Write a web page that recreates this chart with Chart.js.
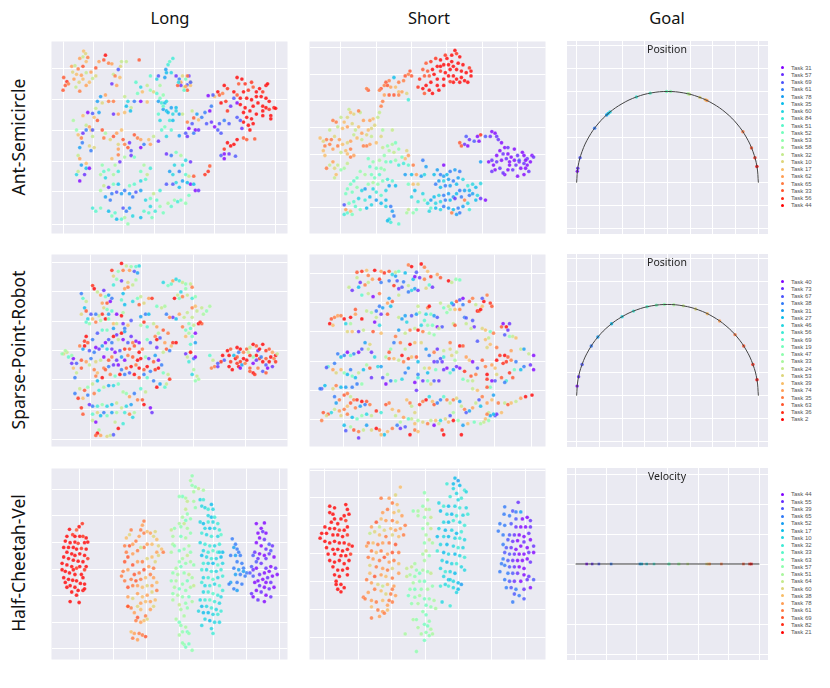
<!DOCTYPE html>
<html>
<head>
<meta charset="utf-8">
<script src="https://cdn.jsdelivr.net/npm/chart.js@4"></script>
<style>
body{margin:0;width:830px;height:688px;background:#fff;position:relative;overflow:hidden;font-family:"Noto Sans","DejaVu Sans",sans-serif;}
.box{position:absolute;z-index:1;}
.box canvas{display:block;}
.col{position:absolute;top:6px;font-size:16.5px;color:#111;transform:translateX(-50%);white-space:nowrap;z-index:2;}
.row{position:absolute;left:18px;font-size:17.5px;color:#111;transform:translate(-50%,-50%) rotate(-90deg);white-space:nowrap;z-index:2;}
.ptitle{position:absolute;font-size:10.5px;color:#222;transform:translateX(-50%);white-space:nowrap;z-index:2;}
.legend{position:absolute;left:779px;font-family:"Liberation Sans",Arial,sans-serif;font-size:6px;color:#555;z-index:2;}
.legend div{height:7.25px;line-height:7.25px;white-space:nowrap;}
.legend span{display:inline-block;width:3px;height:3px;border-radius:50%;margin:0 7px 1px 2px;vertical-align:middle;}
</style>
</head>
<body>
<div id="titles"></div>
<div class="box" style="left:47px;top:37px"><canvas id="c1" width="245" height="201"></canvas></div>
<div class="box" style="left:305px;top:37px"><canvas id="c2" width="245" height="201"></canvas></div>
<div class="box" style="left:563px;top:37px"><canvas id="c3" width="209" height="201"></canvas></div>
<div class="box" style="left:47px;top:250px"><canvas id="c4" width="245" height="201"></canvas></div>
<div class="box" style="left:305px;top:250px"><canvas id="c5" width="245" height="201"></canvas></div>
<div class="box" style="left:563px;top:250px"><canvas id="c6" width="209" height="201"></canvas></div>
<div class="box" style="left:47px;top:464px"><canvas id="c7" width="245" height="200"></canvas></div>
<div class="box" style="left:305px;top:464px"><canvas id="c8" width="245" height="200"></canvas></div>
<div class="box" style="left:563px;top:464px"><canvas id="c9" width="209" height="200"></canvas></div>
<script>
// 제목들
const columnTitles = ['Long', 'Short', 'Goal'];
const rowLabels = ['Ant-Semicircle', 'Sparse-Point-Robot', 'Half-Cheetah-Vel'];
const goalTitles = ['Position', 'Position', 'Velocity'];

// 범례 (보라 -> 빨강 순서)
const antTasks = [31, 57, 69, 61, 78, 35, 60, 84, 51, 52, 53, 58, 32, 10, 17, 62, 65, 33, 56, 44];
const sprTasks = [40, 73, 67, 38, 31, 27, 46, 56, 69, 19, 47, 33, 24, 53, 39, 74, 35, 63, 36, 2];
const hcvTasks = [44, 55, 39, 65, 52, 17, 10, 32, 33, 63, 57, 51, 64, 60, 38, 78, 61, 69, 82, 21];

// 목표 위치 (반원 위 각도, 도) / 속도
const antGoalAngles = [172.9, 170.9, 164.2, 143.3, 132.1, 130.7, 129.2, 110, 101, 90.6, 88, 77, 76, 69.2, 65.4, 64.3, 33.9, 22.4, 15.8, 10.2];
const sprGoalAngles = [174, 168, 160, 147, 140, 128, 120, 112, 103, 97, 92, 86, 80, 72, 64, 55, 42, 33, 20, 10];
const hcvGoalVel = [0.18, 0.27, 0.38, 0.58, 1.05, 1.08, 1.16, 1.28, 1.52, 1.53, 1.68, 1.69, 1.83, 2.14, 2.17, 2.19, 2.38, 2.74, 2.84, 2.87];

// 반원 (반지름 1)
const arcPoints = [[1,0],[0.985,0.174],[0.940,0.342],[0.866,0.5],[0.766,0.643],[0.643,0.766],[0.5,0.866],[0.342,0.940],[0.174,0.985],[0,1],
  [-0.174,0.985],[-0.342,0.940],[-0.5,0.866],[-0.643,0.766],[-0.766,0.643],[-0.866,0.5],[-0.940,0.342],[-0.985,0.174],[-1,0]];
const velLine = [[0,0],[3,0]];

// t-SNE 임베딩 [x, y, task index]
const antLong = [
[122,52,14],[128,60,13],[120,70,12],[110,75,15],[135,72,16],[130,85,14],[85,100,15],[95,98,12],[105,108,16],[120,100,17],[88,118,13],[100,125,14],[115,128,15],[130,120,12],[145,118,15],[60,135,17],[70,148,18],[65,160,17],[58,175,17],[75,155,16],[92,140,15],[108,150,13],[120,140,14],[98,165,12],[110,178,16],[130,160,15],[140,150,14],[150,138,12],[160,130,13],[170,85,15],[190,65,19],[185,80,17],[160,105,17],[200,90,16],[210,92,15],[240,85,12],[237,100,13],[255,85,12],[230,110,2],[215,125,12],[235,135,14],[220,130,16],[295,80,17],[210,155,1],[225,160,15],[175,195,4],[190,190,15],[165,210,4],[180,215,13],[200,210,16],[160,232,12],[150,248,2],[170,245,4],[135,245,0],[120,255,14],[155,260,14],[165,270,17],[215,210,16],[250,195,12],[260,210,6],[255,225,5],[270,230,12],[268,240,5],[215,250,1],[230,250,15],[250,245,14],[280,210,3],[300,210,0],[320,212,14],[285,150,8],[300,165,6],[305,180,14],[290,185,9],[320,160,12],[330,130,8],[330,175,10],[340,180,13],[350,140,6],[355,130,2],[350,185,8],[360,200,9],[370,190,10],[360,160,11],[380,120,5],[378,110,4],[385,95,7],[390,85,8],[400,75,7],[375,135,4],[395,120,6],[410,130,1],[420,140,3],[430,130,13],[425,150,15],[440,140,9],[450,130,1],[445,158,2],[435,165,12],[445,175,17],[455,150,12],[425,160,1],
[90,270,11],[100,300,10],[105,315,14],[115,325,16],[130,285,12],[140,290,15],[145,300,14],[150,300,2],[130,300,3],[120,310,1],[118,340,3],[110,355,4],[150,320,12],[140,350,13],[155,355,13],[145,365,3],[105,380,12],[110,390,15],[180,300,17],[185,325,16],[190,310,11],[205,330,13],[215,320,17],[225,310,15],[240,300,14],[245,330,17],[230,345,13],[250,345,16],[260,355,17],[265,340,1],[280,315,17],[290,325,16],[300,330,15],[270,380,1],[280,385,9],[250,385,11],[230,378,16],[210,390,14],[230,360,15],[270,365,2],[300,355,0],[310,345,3],[325,330,14],[340,320,12],[330,345,15],
[355,250,8],[360,270,6],[370,235,4],[380,240,5],[375,290,9],[365,300,8],[380,320,6],[390,270,7],[400,270,5],[395,300,8],[410,230,5],[400,250,6],[420,250,4],[430,250,12],[445,275,16],[460,240,12],[465,262,17],[475,250,4],[480,268,14],[490,260,3],[500,245,3],[515,240,0],[520,225,3],[530,195,14],[540,180,19],[545,190,17],[560,160,19],[570,170,18],[555,185,16],[565,210,18],[550,215,19],[510,192,0],[525,190,2],[505,280,2],[520,275,1],[530,290,0],[540,300,2],[550,310,2],[460,280,2],[470,300,0],[480,300,1],[465,310,3],[450,295,0],[440,310,2],[420,318,4],[445,320,1],
[355,335,1],[380,375,1],[395,380,3],[410,370,9],[425,380,11],[440,395,6],[455,400,1],[430,410,7],[405,410,6],[390,430,4],[400,440,6],[420,430,3],[440,440,8],[450,445,12],[465,445,17],[455,470,0],[445,465,5],[430,460,4],[410,465,6],[400,470,2],[420,480,5],[380,470,2],[360,490,7],[340,500,12],[350,520,8],[330,515,9],[315,520,6],[300,490,4],[310,410,11],[300,430,9],[320,440,12],[330,420,7],[315,455,8],[300,460,6],[280,470,8],[265,475,9],[250,490,3],[240,500,4],[225,495,2],[210,500,3],[200,480,1],[185,475,12],[175,490,11],[190,510,4],[205,520,3],[215,470,9],[230,470,5],[265,500,4],[275,510,3],[285,495,2],
[150,545,7],[160,555,8],[175,545,9],[200,555,5],[210,570,9],[220,560,8],[245,545,2],[255,555,3],[265,545,4],[250,575,11],[240,580,8],[225,580,5],[260,595,10],[275,570,6],[300,575,5],[310,555,8],[325,560,8],[335,575,9],[345,555,7],[330,540,6],[360,540,10],[370,560,9],[385,530,11],[395,540,8],[405,520,10],[415,525,7],[425,520,9],[440,530,10],[450,505,9],[470,490,0],[480,490,1],[465,470,5],
[100,440,6],[110,460,0],[105,430,12],[115,410,4],[125,440,1],[130,420,5],[140,420,0],[175,440,11],[185,430,8],[200,425,9],[215,440,11],[230,430,7],[190,450,6],[180,410,10],[220,410,11],[235,400,1],[130,405,14],
[600,135,19],[615,140,19],[625,155,18],[605,155,17],[590,180,19],[600,190,17],[610,200,19],[620,180,19],[635,175,18],[645,150,18],[650,165,17],[660,180,19],[670,170,19],[680,180,18],[690,160,19],[695,155,19],[630,200,19],[645,205,19],[660,195,19],[675,195,19],[690,200,19],[700,210,19],[715,230,19],[720,232,19],[700,235,18],[680,225,19],[665,215,19],[650,225,19],[640,240,19],[625,230,19],[610,220,19],[600,215,0],[590,200,2],[580,225,1],[570,240,18],[600,260,2],[620,245,19],[630,260,19],[645,265,19],[660,250,19],[680,240,19],[690,230,19],[705,255,19],[705,265,19],[680,255,19],[650,280,19],[635,285,19],[620,275,19],[640,300,19],[620,325,17],[630,330,17],[655,328,17],[600,330,19],[590,345,19],[580,350,19],[570,340,19],[560,360,18],[550,380,2],[560,375,0],[575,375,1],[595,382,2],[560,390,0],[615,295,1],[610,270,2],[575,280,2],[560,270,3],[545,280,2],
[515,413,17],[510,430,18],[500,440,18],
[355,210,4],[365,215,7],[375,215,5],[380,210,6],[370,225,8],[395,230,4],[385,245,5],[410,240,6],
[415,160,17],[435,175,8],[440,163,15],[455,160,14],[418,150,6],[445,130,16],[455,150,2]
];

const antShort = [
[475,50,19],[480,60,18],[465,65,19],[450,75,19],[445,65,18],[490,70,19],[430,80,19],[415,75,18],[400,85,18],[385,90,17],[375,110,17],[390,115,17],[405,110,19],[420,100,19],[430,100,19],[440,95,19],[455,95,19],[465,85,19],[470,100,19],[485,90,19],[500,95,19],[520,105,18],[525,115,19],[510,120,19],[495,115,19],[480,110,19],[460,110,19],[445,120,19],[430,115,18],[410,125,19],[395,130,17],[380,130,17],[420,140,19],[440,140,19],[455,130,19],[470,130,19],[480,140,19],[495,135,19],[505,145,19],[490,150,19],[470,150,19],[460,148,18],[400,150,19],[385,160,19],[375,170,19],[395,175,19],[405,185,19],[380,185,17],[420,160,19],[425,175,19],[440,160,19],[360,165,18],[525,130,19],[515,150,19],[365,140,18],
[335,115,17],[340,130,17],[330,125,16],[320,130,17],[315,145,16],[300,150,16],[285,135,5],[270,145,16],[260,150,17],[255,160,16],[265,160,17],[275,165,15],[245,170,17],[240,175,16],[290,165,14],[300,180,14],[285,190,17],[300,190,16],[310,180,15],[325,185,13],[330,205,7],[205,175,17],[200,170,16],[250,210,16],[245,225,16],[255,190,15],[270,190,17],
[240,245,12],[235,260,12],[220,265,14],[210,270,15],[225,285,13],[215,295,13],[205,300,14],[190,270,15],[180,245,12],[175,240,16],[160,250,13],[145,235,12],[150,245,14],[140,260,13],[130,275,14],[120,260,12],[105,275,16],[95,270,16],[110,290,12],[125,295,14],[140,290,15],[155,280,13],[165,300,12],[175,290,14],[185,310,15],[200,315,13],[215,320,12],[250,300,11],[280,300,12],[245,320,13],[230,340,14],[210,345,15],[200,350,16],[190,350,16],[185,330,12],[170,325,14],[160,315,12],[150,335,15],[140,340,13],[125,345,14],[115,330,15],[100,320,13],[90,330,16],[85,345,16],[75,330,16],[65,335,13],[55,325,14],[70,350,16],[65,365,14],[85,300,12],[95,360,15],[110,350,16],[120,370,12],[135,365,14],[150,360,16],[160,380,15],[150,385,16],[140,375,14],[70,380,14],[95,400,15],[85,410,12],[75,420,16],[100,420,13],[110,410,12],[130,420,11],[120,425,10],[140,405,12],[100,450,12],[105,440,14],
[250,355,12],[265,350,10],[280,345,11],[290,340,9],[300,360,10],[285,370,12],[270,365,11],[255,380,10],[240,395,11],[220,400,10],[205,390,9],[210,415,8],[230,420,9],[245,420,10],[260,400,9],[275,400,8],[290,395,10],[300,410,7],[315,405,7],[320,390,14],[330,380,15],[325,365,13],[310,385,9],[255,425,10],[240,440,8],[225,450,9],[215,440,9],[195,440,11],[180,430,10],[170,450,9],[160,460,8],[150,470,9],[140,485,9],[135,500,9],[155,495,9],[170,480,10],[185,490,6],[195,485,4],[205,470,10],[220,465,11],[235,470,10],[250,460,9],[265,455,7],[280,460,8],[290,475,5],[270,475,4],[260,490,6],[245,505,8],[230,495,7],[220,485,6],[210,510,5],[195,520,7],[175,515,6],[160,525,8],[145,530,9],[130,535,2],[165,540,8],[180,550,9],[200,545,5],[215,535,6],[230,520,4],[245,530,5],[260,540,6],[275,540,3],[280,555,4],[285,570,3],[270,580,6],[275,590,7],[265,585,5],[300,595,8],[260,520,5],[130,565,7],[140,560,8],[150,555,14],[135,550,15],[155,565,9],
[330,410,8],[345,410,16],[320,440,4],[340,440,5],[355,440,15],[370,445,4],[380,440,6],[385,415,4],[375,395,3],[360,470,13],[345,470,14],[330,470,9],[350,490,5],[340,510,6],[360,525,7],[375,500,6],[380,520,9],[330,550,12],[345,560,10],[355,550,9],[325,560,11],[390,530,6],
[440,410,0],[420,425,4],[410,440,5],[430,440,3],[440,445,4],[450,440,5],[460,430,3],[475,425,4],[490,430,3],[485,450,4],[470,460,3],[455,455,4],[440,460,6],[425,460,4],[415,470,3],[430,480,5],[445,475,3],[460,475,4],[480,470,5],[500,455,6],[515,475,7],[530,470,6],[540,480,5],[555,468,6],[520,490,5],[505,490,4],[490,490,3],[480,500,5],[470,510,4],[455,500,4],[440,505,3],[425,505,6],[410,510,5],[400,520,4],[415,530,6],[430,525,6],[445,520,3],[460,520,5],[475,515,1],[495,510,3],[505,520,16],[520,505,3],[530,500,4],[540,520,5],[555,515,1],[570,520,0],[545,505,6],[515,530,6],[500,540,4],[485,545,3],[470,550,5],[455,545,4],[440,540,3],[430,550,6],[415,545,5],[400,545,8],[395,555,6],[465,560,16],[480,565,4],[490,560,3],[520,550,7],
[590,305,0],[600,310,0],[605,320,1],[585,320,1],[570,320,2],[555,315,18],[545,320,0],[550,335,0],[535,335,2],[520,330,1],[510,320,2],[505,345,1],[490,340,17],[495,350,17],[515,350,0],[610,330,1],[620,340,0],[630,355,0],[640,355,1],[615,365,0],[625,375,1],[640,375,0],[650,385,0],[605,380,0],[590,395,1],[580,400,0],[595,410,0],[605,400,1],[620,395,0],[635,390,1],[645,400,0],[660,395,0],[670,380,1],[685,370,0],[690,380,0],[700,390,1],[715,380,0],[720,385,1],[710,400,0],[700,410,0],[690,405,1],[675,400,0],[665,410,1],[680,420,0],[695,420,0],[705,430,1],[690,440,0],[670,445,0],[655,425,1],[640,425,0],[630,440,0],[625,435,1],[615,420,1],[600,425,0],[590,430,1],[555,400,4],[660,360,0],[675,395,2],[645,410,0],[695,395,0]
];

const sprLong = [
[240,50,19],[255,58,12],[270,60,10],[285,60,8],[295,58,6],[230,75,10],[245,72,16],[265,72,15],[280,75,2],[290,80,4],[210,72,18],[215,90,13],[225,100,10],[240,105,1],[215,118,7],[260,110,13],[275,118,12],[285,102,11],[260,125,16],[250,130,15],
[115,145,3],[120,160,8],[130,170,12],[125,190,5],[115,210,13],[130,200,17],[135,225,6],[150,120,18],[155,130,19],[165,140,12],[175,150,15],[185,135,1],[190,155,9],[200,150,4],[210,160,3],[205,170,0],[195,175,17],[180,175,15],[185,190,13],[195,195,9],[210,200,8],[200,210,4],[180,210,18],[170,215,12],[160,210,3],[145,210,2],[150,225,14],[140,240,10],[130,235,8],[160,235,16],[175,230,11],[190,225,19],[200,225,9],[215,240,14],[225,240,12],[240,215,19],[245,205,11],[250,180,5],[240,165,8],[245,145,5],[275,170,6],[290,160,9],[300,155,12],[310,175,13],[295,180,17],[325,160,15],[335,160,18],[315,210,3],[325,210,5],[300,218,4],[310,235,18],[300,245,11],[320,250,8],[270,230,2],[225,210,0],[260,245,14],[250,255,3],[245,240,1],
[370,110,6],[385,120,9],[395,115,8],[400,105,15],[410,100,6],[420,105,7],[430,110,12],[440,115,10],[455,115,12],[460,125,16],[440,130,10],[425,140,6],[415,150,12],[405,160,19],[420,160,9],[430,155,16],[445,150,12],[460,160,7],[470,155,10],[350,185,9],[365,190,12],[375,185,11],[380,210,3],[400,220,1],[390,220,16],[410,225,5],[420,210,15],[435,220,12],[445,205,12],[460,190,16],[470,185,14],[475,200,12],[490,190,12],[505,200,10],[515,185,11],[495,210,11],[460,220,12],[450,240,10],[440,260,9],[450,270,11],[470,270,0],[480,240,19],[490,240,17],[485,235,18],[465,245,12],[455,255,8],[430,250,16],
[340,240,12],[350,250,15],[355,270,11],[345,280,16],[360,285,2],[350,290,19],[370,260,17],[385,270,16],[375,300,15],[380,320,17],[395,310,14],[400,300,18],[410,300,19],[390,325,3],[370,330,12],[440,280,14],[460,280,9],[470,300,4],[455,305,8],[440,335,1],[455,330,19],[445,345,12],[465,350,3],[470,345,0],[450,360,7],[465,385,11],[460,400,6],[475,405,12],[480,415,11],[470,420,10],[350,315,1],[330,300,2],[320,290,9],
[210,300,3],[230,290,12],[240,270,19],[250,265,4],[270,280,1],[285,295,0],[295,300,0],[275,300,16],[260,300,2],[245,290,0],[225,275,1],[215,280,19],[200,290,2],[190,300,0],[180,310,4],[170,320,1],[160,315,0],[150,290,3],[165,270,2],[180,260,8],[195,260,9],[215,255,4],[130,280,19],[125,295,18],[135,300,17],[120,320,4],[140,325,2],[155,330,3],[195,320,6],[210,320,1],[220,330,0],[235,325,2],[250,320,18],[265,320,17],[280,310,17],[295,330,19],[305,320,16],[315,345,10],[300,350,19],[290,355,19],[275,345,17],[260,340,16],[250,355,0],[240,345,4],[225,355,1],[210,345,16],[200,355,17],[185,345,0],[175,355,12],[160,360,13],[145,350,3],[130,360,15],[115,355,17],[100,365,2],[90,350,0],[85,340,10],[70,330,12],[60,335,13],[75,345,8],[90,380,14],[100,395,12],[95,410,3],[115,380,17],[140,370,12],[155,385,16],[165,395,14],[185,380,16],[190,385,17],[200,375,3],[215,370,1],[230,370,0],[240,385,3],[255,380,17],[270,375,19],[285,370,16],[295,380,19],[310,385,17],[320,375,19],[330,390,3],[345,385,18],[355,380,19],[340,360,17],[325,350,1],[345,340,4],[355,355,0],[365,370,3],[370,395,9],[385,400,12],[390,415,18],[380,430,12],[375,440,8],[360,430,4],[350,440,19],[340,420,3],[320,410,8],[310,400,3],[295,410,17],[280,400,19],[265,395,2],[250,400,3],[235,400,19],[220,405,9],[205,400,16],[180,410,19],[160,405,16],[165,420,5],[150,430,12],[135,440,10],[125,450,17],[110,445,12],[95,460,3],[105,475,18],[120,475,14],[135,465,3],[155,460,16],[170,450,7],[185,440,11],[200,435,4],[215,435,6],[230,430,9],[245,455,11],[255,460,10],[265,470,15],[280,460,3],[300,445,8],[315,455,12],[290,480,16],[305,480,17],[310,495,19],[330,505,0],[335,520,1],[270,495,4],[255,500,6],[240,505,12],[225,490,12],[210,495,5],[195,500,6],[180,495,10],[165,500,7],[150,500,3],[140,495,1],[115,505,18],[120,525,17],[150,525,8],[165,520,13],[175,530,5],[185,520,3],[195,530,9],[210,520,4],[225,520,11],[250,520,7],[265,525,16],[280,520,11],[150,545,12],[160,550,0],[170,575,11],[165,585,19],[160,592,17],[175,592,15],[195,595,13],[205,592,12],[215,590,2],[230,570,19],[220,550,12],[245,555,7],[275,535,6],
[55,335,10],[65,325,11],[85,365,1],[110,310,16],[125,310,19],
[515,340,8],[525,355,12],[520,380,16],[530,375,16],[540,375,1],[555,340,19],[560,355,2],[570,325,19],[580,320,17],[590,340,5],[595,350,19],[580,360,18],[575,375,19],[585,385,19],[600,345,17],[605,330,3],[610,320,19],[620,330,16],[630,320,17],[640,315,12],[650,305,19],[660,310,17],[665,325,1],[670,320,19],[680,305,19],[690,325,18],[700,320,17],[710,330,15],[720,340,19],[725,335,12],[715,350,16],[720,360,18],[710,375,1],[700,360,19],[690,370,2],[680,360,19],[670,350,18],[660,340,19],[650,345,10],[640,340,18],[630,355,19],[620,350,19],[610,360,18],[605,375,19],[615,370,4],[625,365,16],[640,380,17],[650,395,19],[655,400,18],[640,390,17],[665,380,16],[680,390,2],[690,395,17],[695,380,0],[650,365,0],[660,355,1],[635,330,12],[550,360,18],[540,365,2],[600,365,18],[610,380,0],[675,345,3],[690,350,17],[705,345,19],[600,315,19],[575,340,19]
];

const sprShort = [
[170,78,17],[185,75,18],[200,72,14],[205,88,16],[225,72,19],[245,75,15],[255,80,18],[270,75,17],[280,85,6],[290,78,12],[300,75,9],[320,80,5],[330,55,16],[340,60,19],[355,78,2],[370,52,19],[380,62,16],[390,75,14],[400,92,18],[420,85,15],[430,95,17],[455,105,19],[465,110,12],[478,100,10],[490,102,9],[170,95,12],[180,110,1],[175,125,5],[195,118,16],[205,110,12],[218,100,15],[240,100,18],[245,110,3],[270,105,3],[290,90,4],[295,105,2],[310,125,2],[315,108,3],[285,120,18],[300,130,1],[330,120,12],[345,100,5],[350,92,0],[365,95,1],[380,100,16],[395,118,8],[405,125,1],[385,128,13],[350,130,4],[340,135,6],[360,135,1],[330,140,3],[145,125,12],[155,135,1],[185,150,8],[205,145,12],[220,155,0],[240,145,16],[270,160,4],[280,170,17],[300,150,12],
[90,225,17],[100,220,16],[85,240,19],[95,245,14],[110,215,15],[120,215,16],[130,225,19],[135,240,6],[150,220,19],[165,195,17],[165,210,15],[185,225,19],[150,240,11],[140,265,13],[155,265,14],[175,265,1],[190,260,12],[200,200,12],[215,205,11],[230,200,3],[240,185,3],[250,190,4],[245,210,1],[265,210,17],[225,235,0],[230,220,12],[240,245,6],[220,265,17],[245,270,14],[265,175,15],[275,185,5],
[300,220,12],[310,225,4],[320,215,4],[325,235,6],[340,215,2],[355,210,4],[365,205,11],[385,210,6],[390,190,16],[400,210,9],[410,215,4],[420,220,2],[380,230,8],[370,245,6],[390,245,10],[405,245,9],[420,250,0],[435,250,2],[425,255,12],[300,260,4],[320,270,12],[335,260,16],[350,255,12],[360,260,19],[375,265,16],[395,270,11],[410,275,10],[360,185,12],[395,185,19],
[430,175,12],[440,190,9],[450,205,10],[460,195,11],[470,180,2],[480,170,17],[490,165,2],[500,160,0],[500,180,3],[465,175,5],[455,185,12],[475,195,14],[490,195,16],[505,220,3],[510,222,2],[520,170,17],[530,160,16],[540,180,12],[545,200,19],[550,200,17],[555,195,19],[560,185,14],[565,170,19],[560,160,2],[575,150,16],[585,175,18],[590,185,17],[530,230,2],[535,250,1],[525,255,12],[510,240,12],[470,240,12],[475,245,17],[560,255,13],[570,260,14],[585,265,9],[595,270,16],[620,250,17],[625,240,0],[635,250,19],[645,240,1],[640,260,1],[630,275,2],[645,280,10],[655,280,12],[665,285,14],[545,295,2],[570,290,14],[580,285,12],[585,305,14],[575,315,13],[605,315,16],[615,340,18],[630,340,19],[640,345,17],[635,360,18],[625,365,18],[650,355,16],[650,325,15],[680,320,12],[690,320,4],[705,335,12],[720,340,0],[720,385,0],[710,370,1],[690,375,3],[680,385,5],[665,360,3],[660,385,9],[645,395,18],[655,410,17],[635,420,7],[630,425,3],[620,410,17],[605,400,13],[600,420,2],[590,420,0],[575,400,19],[575,415,18],[585,440,9],[575,440,17],[595,465,4],[590,480,14],[575,490,15],[560,470,16],[550,480,2],[545,450,14],[530,445,12],[540,400,16],[525,405,17],[530,420,12],[515,420,11],[500,415,9],[505,390,18],[490,380,0],[480,375,1],[470,385,4],[460,395,8],[450,380,0],[440,385,1],[435,360,1],[440,345,7],[430,350,2],[420,360,2],[410,360,1],[415,385,9],[425,420,1],[410,420,2],[400,430,13],[390,420,9],[375,420,1],[360,410,7],[350,425,0],[355,450,1],[360,400,3],
[440,325,12],[460,320,13],[465,340,13],[475,355,11],[490,310,19],[500,310,17],[510,345,15],[520,355,14],[530,360,0],[545,380,2],[560,355,17],[570,375,16],[590,370,15],[600,380,14],[605,355,19],[460,300,16],[480,330,12],[420,320,1],[410,330,16],[395,340,3],[385,320,4],[370,300,13],[350,300,14],[335,305,19],[320,320,12],[305,300,16],[290,280,16],[285,300,3],[275,320,10],[270,330,17],[260,345,11],[270,350,16],[285,350,14],[300,355,12],[310,340,19],[315,360,16],[330,350,18],[340,345,14],[355,345,17],[360,360,5],[380,380,12],[390,395,5],[395,380,14],[330,380,4],[320,395,3],[310,415,6],[290,420,9],[275,420,3],[260,430,0],[265,400,11],[250,410,2],[235,375,6],[245,375,4],[225,345,6],[215,330,1],[205,320,12],[210,305,13],[195,300,4],[185,320,2],[175,330,0],[160,335,3],[150,340,8],[140,330,0],[130,340,3],[120,345,5],[110,335,3],[100,365,3],[80,375,8],[75,378,2],[95,385,15],[105,395,13],[120,385,14],[130,395,10],[140,400,5],[150,385,3],[155,405,9],[165,410,5],[175,395,12],[190,385,5],[200,370,11],[210,380,17],[215,410,1],[185,430,10],[170,430,3],[155,440,3],[135,440,4],[120,440,5],[105,435,16],[95,445,13],[60,445,2],[70,435,5],[55,445,3],
[100,470,3],[105,490,4],[115,480,16],[130,465,17],[140,460,16],[150,470,12],[160,480,16],[170,480,18],[185,485,19],[200,485,17],[210,495,16],[195,495,3],[180,500,4],[165,505,16],[150,490,17],[140,500,14],[130,510,16],[115,515,15],[100,510,12],[90,520,6],[80,525,17],[65,520,17],[60,545,16],[75,530,13],[120,530,13],[140,525,16],[155,535,5],[170,540,9],[185,530,10],[200,525,6],[215,530,12],[230,515,18],[245,520,7],[260,495,17],[270,490,16],[280,510,14],[290,530,12],[300,515,15],[325,480,14],[335,490,16],[340,500,12],[350,520,13],[365,495,18],[375,485,16],[385,480,19],[395,470,6],[405,485,14],[410,495,17],[420,490,3],[430,480,3],[440,470,8],[450,480,16],[460,490,12],[470,480,16],[480,475,13],[490,485,4],[495,500,12],[505,510,16],[510,520,2],[520,515,4],[530,505,15],[540,490,12],[555,500,5],[580,520,12],[585,530,4],[575,525,16],[600,530,2],[605,525,1],[620,520,14],[630,490,12],[640,495,17],[650,490,14],[665,485,12],[680,475,15],[695,470,19],[715,465,19],[610,490,16],[470,520,11],[460,530,2],[445,540,13],[430,545,6],[415,545,14],[400,545,12],[390,555,16],[375,550,13],[360,545,11],[350,555,14],[340,540,12],[330,540,8],[315,535,15],[305,550,11],[295,560,3],[280,570,16],[265,580,14],[255,590,5],[240,575,16],[230,570,19],[215,575,13],[200,560,4],[190,575,12],[175,580,16],[160,575,17],[150,565,11],[135,577,2],[130,560,5],[175,600,1],[245,590,14],[305,570,1],[320,565,2],[335,590,19],[350,575,16],[360,580,14],[410,560,0],[425,555,12],[435,575,18],[440,590,19],[455,550,14],[470,545,19],[485,545,10],[495,590,19],[500,560,4],[515,555,14],[535,550,9],[555,555,11],[565,550,12],[570,540,14],[580,545,10],[595,525,5]
];

const hcvLong = [
[118,200,18],[108,210,19],[100,220,17],[78,218,19],[70,240,19],[88,235,18],[95,240,19],[110,240,19],[120,240,18],[130,245,19],[65,255,19],[80,260,19],[95,258,19],[105,262,18],[125,260,19],[135,258,19],[60,275,19],[75,275,19],[90,275,19],[100,280,19],[115,278,18],[130,280,19],[70,290,19],[85,295,19],[95,300,19],[110,295,19],[125,300,19],[135,310,18],[60,305,19],[75,310,19],[90,315,19],[105,318,19],[120,320,19],[130,335,19],[55,325,19],[70,330,19],[85,335,19],[100,340,18],[110,335,19],[125,345,18],[55,345,19],[65,350,19],[78,355,19],[95,360,19],[115,360,19],[120,370,19],[60,370,19],[75,375,19],[88,378,19],[100,380,19],[112,388,19],[125,390,19],[65,385,19],[80,395,19],[95,400,19],[105,410,19],[120,410,19],[125,405,19],[85,415,19],[100,425,19],[80,445,19],[108,448,19],[70,400,19],[90,345,19],
[310,192,16],[305,205,15],[300,220,16],[270,220,16],[265,235,13],[255,245,14],[250,270,16],[255,290,16],[265,270,17],[275,265,15],[285,255,16],[295,240,15],[310,230,16],[320,225,14],[330,230,15],[340,240,13],[350,250,14],[345,225,13],[355,270,13],[365,280,14],[370,290,16],[350,290,15],[335,265,14],[320,265,15],[310,275,16],[300,275,12],[290,285,16],[275,295,15],[260,305,17],[250,320,17],[245,350,16],[240,365,16],[260,345,15],[275,330,17],[290,320,15],[305,320,16],[320,310,13],[335,305,14],[345,320,13],[355,300,13],[340,340,16],[325,335,15],[310,345,17],[295,355,16],[280,360,17],[270,375,16],[285,380,17],[300,375,16],[315,370,14],[330,360,16],[340,370,15],[350,385,14],[335,395,15],[320,395,13],[305,400,14],[290,395,15],[275,395,16],[260,400,17],[250,380,16],[260,430,15],[275,435,13],[290,420,15],[305,430,14],[320,425,15],[335,415,13],[350,410,16],[345,440,14],[330,445,15],[315,445,14],[300,450,15],[290,460,13],[270,465,16],[260,460,16],[280,480,15],[300,470,14],[315,490,16],[330,470,15],[340,460,13],[290,495,17],[285,505,16],[300,510,15],[310,505,14],[320,500,13],[270,540,14],[280,545,15],[295,545,16],[305,550,16],[315,555,17],[275,560,16],[290,565,15],[260,460,17],
[460,50,10],[455,65,11],[460,80,10],[470,85,10],[465,100,11],[480,90,12],[495,95,11],[430,115,9],[420,115,10],[440,120,11],[445,130,12],[465,130,11],[470,150,10],[440,155,12],[445,170,10],[430,180,11],[455,185,10],[440,190,9],[420,200,11],[435,200,12],[425,210,10],[445,215,11],[405,215,10],[395,220,12],[455,230,10],[440,245,11],[425,240,9],[400,265,11],[405,270,10],[395,290,11],[420,285,9],[435,280,10],[450,270,11],[455,290,10],[445,300,12],[430,310,11],[420,320,10],[440,325,10],[455,320,11],[465,330,10],[425,335,9],[410,340,11],[400,355,10],[415,360,11],[435,355,10],[450,360,12],[460,370,11],[445,380,9],[430,390,10],[410,380,11],[395,380,10],[405,400,11],[420,405,9],[440,410,10],[455,400,11],[465,395,12],[400,420,10],[415,425,11],[430,430,10],[450,430,9],[460,445,11],[440,450,10],[420,455,12],[400,440,11],[445,465,10],[425,470,11],[435,490,11],[420,510,9],[425,520,10],[440,525,11],[430,540,10],[445,540,9],[450,545,10],[420,550,11],[435,580,10],[440,588,9],[450,578,9],[460,598,10],[430,575,10],[410,500,11],[400,240,11],
[485,125,6],[495,125,7],[490,145,6],[500,150,6],[510,155,7],[525,155,6],[520,140,5],[510,175,6],[520,180,5],[530,180,7],[485,195,6],[495,200,5],[510,195,7],[525,195,6],[540,200,7],[500,215,6],[515,215,5],[530,215,6],[545,220,7],[490,230,7],[505,235,6],[520,240,7],[540,240,6],[550,235,8],[485,260,6],[500,265,7],[515,270,7],[530,270,6],[545,265,7],[495,285,6],[510,290,7],[525,285,8],[540,290,7],[555,290,5],[490,300,5],[505,305,6],[520,310,7],[535,310,6],[550,305,5],[495,325,7],[510,325,6],[525,325,5],[540,330,8],[555,325,6],[490,345,7],[505,345,6],[520,350,7],[535,350,6],[550,345,7],[495,370,6],[510,370,7],[525,375,8],[540,370,6],[555,365,7],[490,385,7],[500,395,6],[515,395,7],[530,390,6],[545,395,8],[555,410,7],[495,415,6],[510,415,7],[525,420,8],[540,425,7],[550,430,6],[485,440,6],[500,440,7],[515,440,8],[530,445,7],[545,450,6],[490,460,5],[505,460,6],[520,465,7],[535,470,6],[550,475,7],[480,475,6],[495,480,5],[510,480,5],[525,485,6],[540,485,7],[500,500,6],[515,505,5],[530,510,6],[490,520,6],[520,530,6],[525,545,7],[545,510,6],[545,290,6],
[585,248,3],[595,265,3],[590,275,4],[600,280,3],[605,290,3],[580,300,3],[595,300,4],[610,300,3],[600,320,3],[615,325,3],[590,340,3],[605,345,4],[620,340,3],[630,355,3],[595,360,4],[610,360,3],[625,365,3],[580,385,4],[600,385,3],[615,390,3],[590,405,3],[600,410,4],[575,390,3],[620,350,4],
[660,200,0],[685,198,0],[675,215,0],[680,225,1],[665,230,0],[690,230,0],[670,245,0],[685,250,1],[660,260,0],[700,265,2],[710,270,1],[675,270,0],[690,280,1],[705,285,2],[655,290,1],[670,295,0],[650,300,2],[665,310,1],[685,300,0],[700,295,1],[715,305,0],[690,310,1],[660,320,2],[675,325,1],[645,335,2],[660,340,0],[690,340,1],[705,335,0],[720,340,1],[700,350,0],[685,355,0],[670,360,1],[650,365,2],[725,360,0],[710,365,0],[695,370,1],[680,375,0],[665,380,0],[690,385,0],[705,385,1],[655,385,0],[670,395,1],[685,400,0],[700,405,1],[715,400,0],[660,410,0],[675,415,1],[690,425,0],[705,430,1],[650,430,0],[665,440,1],[685,445,0],[645,420,1],[640,355,2],[650,345,1]
];

const hcvShort = [
[85,150,19],[100,155,19],[135,145,19],[140,160,19],[85,170,19],[95,175,19],[130,180,19],[145,175,19],[120,190,19],[135,195,18],[100,190,19],[90,200,19],[110,205,19],[70,215,19],[85,220,19],[100,220,19],[115,225,18],[130,225,19],[140,215,19],[60,235,19],[75,235,19],[95,240,19],[110,240,19],[125,245,19],[140,240,18],[55,250,19],[70,260,19],[85,265,19],[100,260,19],[115,265,19],[130,265,19],[145,270,18],[155,275,19],[75,280,19],[95,285,19],[110,285,19],[125,290,19],[140,285,19],[80,300,19],[100,300,19],[120,305,19],[135,305,19],[150,300,18],[85,320,19],[100,325,19],[115,320,19],[130,330,19],[145,320,19],[95,340,19],[110,350,19],[125,350,19],[140,345,19],[100,365,19],[115,370,19],[140,365,19],[105,385,19],[120,395,19],[130,405,19],[110,410,19],[120,418,19],[105,395,19],
[305,90,14],[290,115,13],[270,125,15],[245,125,16],[280,140,16],[295,145,14],[265,160,16],[250,170,15],[300,165,13],[285,170,14],[310,180,15],[245,190,14],[260,195,15],[280,195,16],[295,200,14],[230,200,17],[215,215,15],[225,230,13],[240,215,12],[255,225,13],[275,220,14],[290,225,15],[305,220,15],[320,210,16],[210,235,12],[240,240,14],[260,245,16],[280,240,13],[300,245,14],[315,240,16],[205,265,16],[220,265,14],[235,270,16],[250,265,15],[270,265,16],[290,270,17],[200,275,15],[215,290,16],[230,295,14],[245,290,16],[265,300,15],[280,295,17],[300,295,16],[205,310,16],[220,315,15],[240,320,16],[255,310,17],[270,325,15],[285,320,16],[300,330,14],[210,335,13],[230,340,16],[250,345,15],[265,350,16],[280,345,13],[300,360,15],[210,360,14],[225,370,17],[245,365,15],[260,370,14],[280,375,16],[200,380,16],[215,390,15],[235,395,13],[250,400,12],[265,395,14],[285,400,15],[190,435,16],[205,420,15],[225,410,16],[245,415,14],[260,425,13],[275,425,16],[290,430,15],[215,445,15],[230,450,16],[250,445,14],[265,460,15],[280,450,16],[215,465,14],[235,475,16],[250,480,15],[265,475,14],[215,500,16],[240,495,15],[255,485,16],[195,440,16],[270,445,16],[280,410,16],
[380,108,10],[390,130,11],[375,150,10],[345,165,10],[360,165,11],[385,160,12],[395,160,11],[400,185,12],[380,185,10],[360,180,11],[390,205,11],[400,220,12],[375,220,10],[385,240,11],[395,255,12],[405,265,11],[380,265,10],[385,290,12],[375,300,11],[395,305,10],[380,320,11],[350,330,11],[340,340,12],[355,350,10],[325,345,12],[335,365,11],[325,370,12],[350,370,10],[365,360,9],[375,350,11],[390,355,10],[400,360,12],[380,385,9],[365,385,10],[345,390,11],[335,410,10],[350,410,9],[370,410,10],[390,410,11],[405,400,10],[330,430,9],[350,435,10],[365,430,11],[380,440,9],[395,440,10],[410,445,11],[340,455,10],[360,455,11],[385,460,9],[400,465,10],[415,470,11],[375,480,10],[385,490,9],[395,510,10],[380,520,9],[345,505,11],[355,505,10],[390,525,9],[400,535,11],[385,545,10],[370,550,11],[395,555,10],[380,570,9],[320,550,11],[355,605,10],[405,550,11],[360,530,11],
[475,62,5],[485,70,4],[470,80,5],[490,85,5],[470,95,6],[505,100,7],[510,105,6],[480,110,6],[450,80,7],[460,120,7],[485,130,6],[495,125,7],[425,140,6],[440,150,7],[455,150,5],[475,150,6],[490,155,7],[510,155,6],[430,165,5],[450,175,6],[465,175,5],[480,180,7],[500,178,6],[515,175,7],[440,200,6],[455,200,5],[470,195,7],[490,200,6],[505,210,7],[425,220,6],[445,225,5],[465,225,6],[480,235,5],[495,230,7],[420,245,5],[440,245,6],[455,245,5],[475,250,6],[490,250,7],[505,255,6],[430,270,6],[450,270,5],[470,275,6],[485,280,7],[500,280,6],[420,290,7],[440,295,5],[455,300,6],[475,300,5],[490,305,6],[505,310,7],[435,320,6],[450,325,5],[465,330,6],[480,330,7],[495,340,6],[505,350,6],[430,345,6],[445,355,7],[460,355,6],[475,360,5],[440,370,6],[455,380,5],[470,385,6],[485,390,5],[495,395,4],[445,395,6],[430,400,7],[455,400,7],[470,405,6],[485,410,5],[480,420,6],[460,462,7],[435,450,6],[460,380,6],
[672,138,1],[630,152,3],[655,165,2],[665,168,3],[680,168,4],[628,175,3],[645,180,3],[665,190,2],[685,190,0],[700,185,0],[710,195,1],[615,205,3],[630,210,3],[650,205,2],[665,215,1],[680,215,0],[695,215,0],[710,215,1],[610,228,3],[625,240,3],[645,240,2],[660,240,1],[675,240,0],[690,245,0],[705,235,1],[640,255,2],[655,260,1],[670,258,0],[690,262,1],[710,255,0],[625,270,3],[635,280,2],[650,280,1],[665,285,0],[680,275,0],[700,280,0],[720,275,1],[630,295,2],[645,300,2],[660,300,1],[675,300,0],[690,300,0],[705,295,1],[720,295,0],[625,315,3],[640,320,2],[655,320,1],[670,320,0],[685,320,0],[700,315,0],[710,325,1],[630,335,3],[645,340,2],[660,340,1],[675,340,0],[690,345,0],[640,360,3],[655,360,2],[670,360,1],[690,365,0],[705,370,1],[720,380,2],[630,380,3],[645,385,2],[660,385,1],[680,385,0],[700,380,1],[635,405,3],[650,405,2],[665,410,3],[690,410,1],[710,405,0],[660,425,2],[675,430,3],[690,440,2],[655,450,3],[620,330,3],[615,355,3]
];

// rainbow colormap
function rainbow(k, a) {
    const x = k / 19;
    const r = Math.min(1, Math.abs(2 * x - 0.5));
    const g = Math.sin(Math.PI * x);
    const b = Math.cos(Math.PI * x / 2);
    return 'rgba(' + Math.round(r * 255) + ',' + Math.round(g * 255) + ',' + Math.round(b * 255) + ',' + a + ')';
}

// 배경 (seaborn darkgrid)
const bgPlugin = {
    id: 'bg',
    beforeDraw(chart) {
        const a = chart.chartArea;
        chart.ctx.save();
        chart.ctx.fillStyle = '#eaeaf2';
        chart.ctx.fillRect(a.left, a.top, a.right - a.left, a.bottom - a.top);
        chart.ctx.restore();
    }
};

function axis(min, max, grid, reverse) {
    return {
        type: 'linear', min: min, max: max, reverse: !!reverse,
        afterBuildTicks: s => { s.ticks = grid.map(v => ({ value: v })); },
        ticks: { display: false },
        grid: { color: '#ffffff', lineWidth: 1, drawTicks: false },
        border: { display: false }
    };
}

function baseOptions(xs, ys) {
    return {
        responsive: false, animation: false, events: [],
        layout: { padding: 0 },
        plugins: { legend: { display: false }, tooltip: { enabled: false } },
        scales: { x: xs, y: ys }
    };
}

function scatterPanel(id, pts, ymin, ymax, gx, gy) {
    new Chart(document.getElementById(id), {
        type: 'scatter',
        data: {
            datasets: [{
                data: pts.map(p => ({ x: p[0], y: p[1] })),
                pointBackgroundColor: pts.map(p => rainbow(p[2], 0.8)),
                pointBorderColor: 'rgba(255,255,255,0.35)',
                pointBorderWidth: 0.5,
                pointRadius: 1.9
            }]
        },
        options: baseOptions(axis(22, 757, gx, false), axis(ymin, ymax, gy, true)),
        plugins: [bgPlugin]
    });
}

function step(a, b, d) {
    const out = [];
    for (let v = a; v <= b + 1e-9; v += d) out.push(+v.toFixed(4));
    return out;
}

function arcPanel(id, angles) {
    const colors = angles.map((a, i) => rainbow(i, 0.9));
    new Chart(document.getElementById(id), {
        type: 'scatter',
        data: {
            datasets: [
                { data: arcPoints.map(p => ({ x: p[0], y: p[1] })), showLine: true, borderColor: '#444', borderWidth: 1, pointRadius: 0, tension: 0.4, order: 0 },
                { data: angles.map(a => ({ x: Math.cos(a * Math.PI / 180), y: Math.sin(a * Math.PI / 180) })), pointBackgroundColor: colors, pointBorderColor: colors, pointBorderWidth: 0, pointRadius: 1.7, order: 1 }
            ]
        },
        options: baseOptions(axis(-1.106, 1.106, step(-1, 1, 0.25)), axis(-0.564, 1.554, step(-0.5, 1.5, 0.25))),
        plugins: [bgPlugin]
    });
}

function velPanel(id, vels) {
    const colors = vels.map((v, i) => rainbow(i, 0.9));
    new Chart(document.getElementById(id), {
        type: 'scatter',
        data: {
            datasets: [
                { data: velLine.map(p => ({ x: p[0], y: p[1] })), showLine: true, borderColor: '#3a3a3a', borderWidth: 1.2, pointRadius: 0, order: 0 },
                { data: vels.map(v => ({ x: v, y: 0 })), pointStyle: 'rect', pointBackgroundColor: colors, pointBorderColor: colors, pointBorderWidth: 0, pointRadius: 1.8, order: 1 }
            ]
        },
        options: baseOptions(axis(-0.141, 3.141, step(0, 3, 0.5)), axis(-0.064, 0.064, step(-0.06, 0.06, 0.02))),
        plugins: [bgPlugin]
    });
}

scatterPanel('c1', antLong, 22, 625, [60, 153, 247, 342, 437, 531, 626, 720], [108, 205, 302, 398, 493, 596]);
scatterPanel('c2', antShort, 22, 625, [120, 230, 340, 450, 560, 670], [40, 125, 208, 292, 377, 460, 543]);
arcPanel('c3', antGoalAngles);
scatterPanel('c4', sprLong, 22, 627, [143, 303, 463, 625], [48, 140, 232, 325, 417, 510, 605]);
scatterPanel('c5', sprShort, 22, 627, [127, 245, 362, 480, 598, 714], [82, 174, 265, 358, 450, 542]);
arcPanel('c6', sprGoalAngles);
scatterPanel('c7', hcvLong, 27, 627, [110, 215, 318, 420, 525, 628, 732], [92, 176, 260, 343, 426, 510, 593]);
scatterPanel('c8', hcvShort, 32, 630, [70, 174, 278, 382, 485, 590, 695], [38, 122, 210, 297, 385, 472, 560]);
velPanel('c9', hcvGoalVel);

// 텍스트 (열 제목, 행 이름, 패널 제목, 범례)
const titles = document.getElementById('titles');
const colCenters = [170, 429, 667];
columnTitles.forEach((t, i) => {
    const d = document.createElement('div');
    d.className = 'col'; d.style.left = colCenters[i] + 'px'; d.textContent = t;
    titles.appendChild(d);
});
const rowCenters = [137, 350, 563];
rowLabels.forEach((t, i) => {
    const d = document.createElement('div');
    d.className = 'row'; d.style.top = rowCenters[i] + 'px'; d.textContent = t;
    titles.appendChild(d);
});
const goalTitleTops = [42, 255, 469];
goalTitles.forEach((t, i) => {
    const d = document.createElement('div');
    d.className = 'ptitle'; d.style.left = '667px'; d.style.top = goalTitleTops[i] + 'px'; d.textContent = t;
    titles.appendChild(d);
});
const legendTops = [64.7, 278.7, 491.4];
[antTasks, sprTasks, hcvTasks].forEach((tasks, i) => {
    const lg = document.createElement('div');
    lg.className = 'legend'; lg.style.top = legendTops[i] + 'px';
    tasks.forEach((t, k) => {
        const it = document.createElement('div');
        const dot = document.createElement('span');
        dot.style.background = rainbow(k, 1);
        it.appendChild(dot);
        it.appendChild(document.createTextNode('Task ' + t));
        lg.appendChild(it);
    });
    titles.appendChild(lg);
});
</script>
</body>
</html>
